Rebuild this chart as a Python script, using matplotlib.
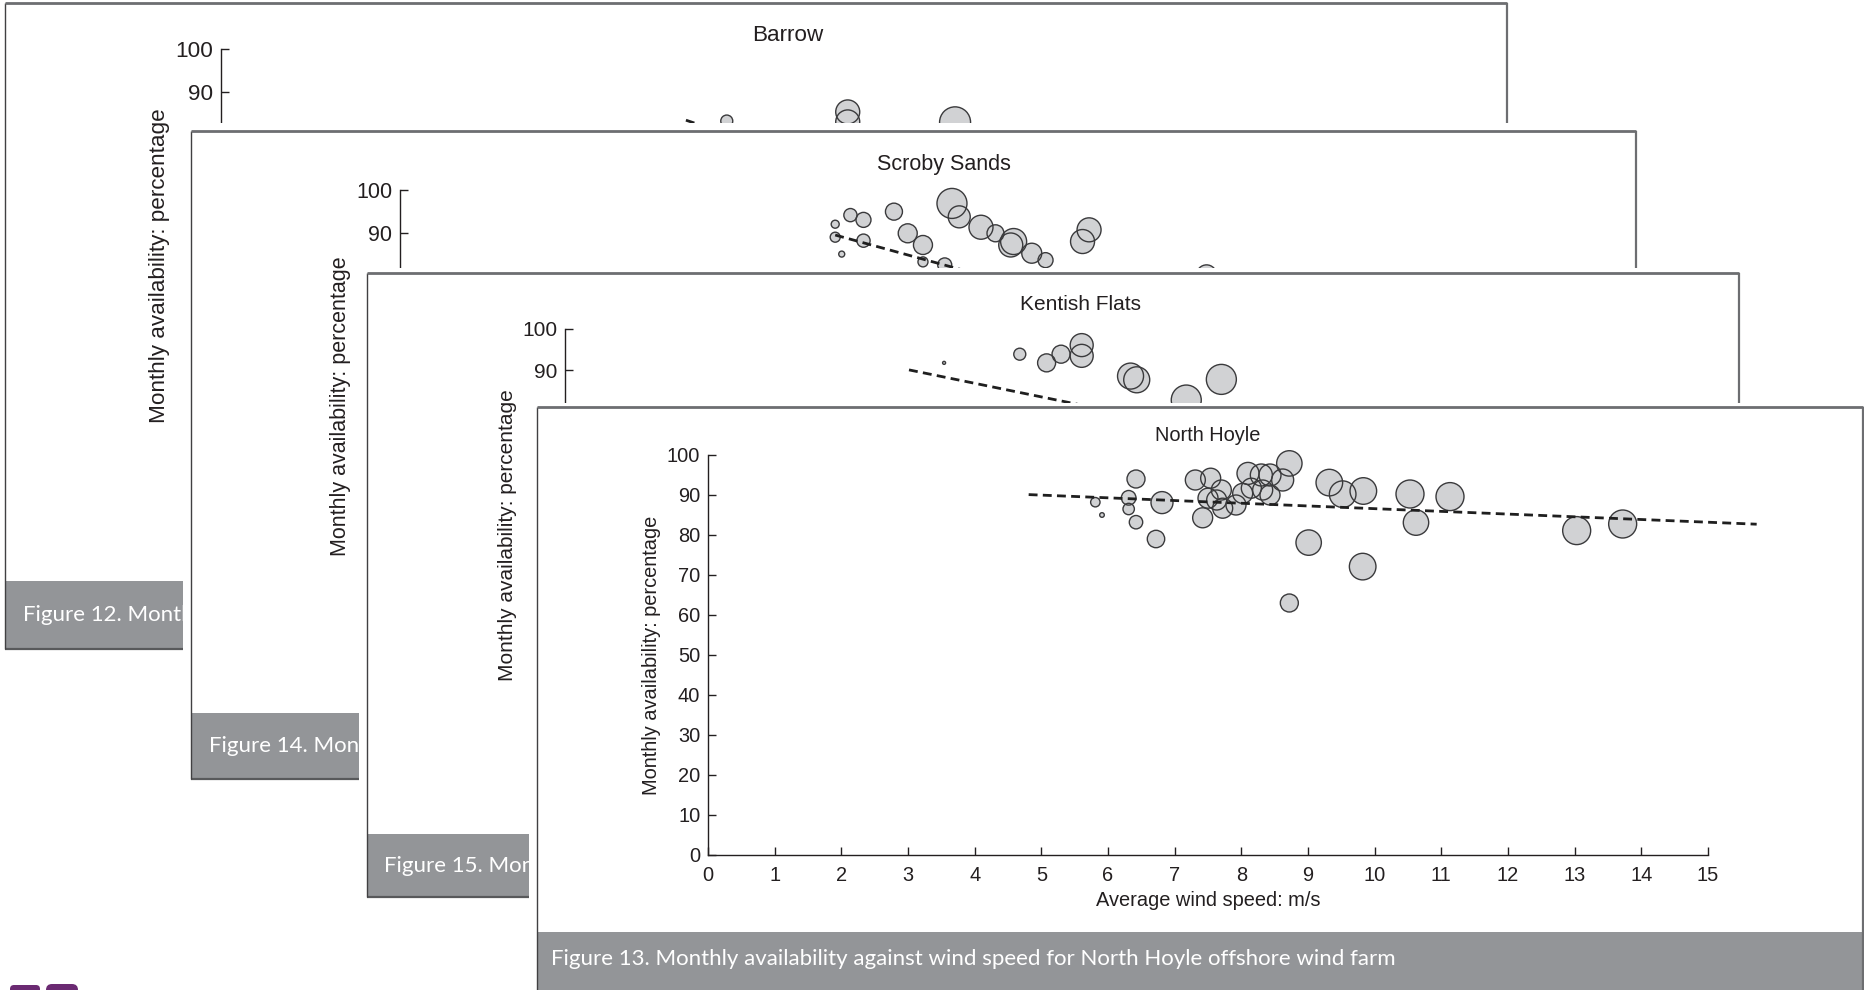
import matplotlib
matplotlib.use("Agg")
import matplotlib.pyplot as plt
from matplotlib.patches import Rectangle, FancyBboxPatch

plt.rcParams['font.family'] = ['Liberation Sans', 'DejaVu Sans']

# ---------------- data ----------------
titles = ["Barrow", "Scroby Sands", "Kentish Flats", "North Hoyle"]
captions = [
    "Figure 12. Monthly availability against wind speed for Barrow offshore wind farm",
    "Figure 14. Monthly availability against wind speed for Scroby Sands offshore wind farm",
    "Figure 15. Monthly availability against wind speed for Kentish Flats offshore wind farm",
    "Figure 13. Monthly availability against wind speed for North Hoyle offshore wind farm",
]
x_ticks = list(range(0, 16))
y_ticks = list(range(0, 101, 10))
x_label = "Average wind speed: m/s"
y_label = "Monthly availability: percentage"

barrow_wind = [6.69, 8.29, 8.29, 9.71]
barrow_avail = [83.4, 85.5, 83.2, 83.1]
barrow_size = [6.0, 12.0, 12.0, 15.5]
barrow_trend_x = [6.15, 12.0]
barrow_trend_y = [83.6, 49.0]

scroby_wind = [7.61, 7.71, 8.01, 8.21, 8.42, 8.46, 8.71, 8.90, 9.41, 9.50, 6.81,
               7.00, 7.21, 6.21, 6.39, 6.00, 6.00, 6.39, 6.09, 7.21, 7.51, 11.12]
scroby_avail = [96.9, 93.8, 91.4, 90.0, 87.3, 88.1, 85.4, 83.8, 88.1, 90.8, 95.0,
                90.0, 87.3, 94.2, 93.1, 92.1, 89.1, 88.3, 85.2, 83.4, 82.7, 80.4]
scroby_size = [15, 11, 12, 8.5, 12, 13, 10, 7.5, 12, 12, 8.5,
               9.5, 9.5, 6.6, 7.5, 4, 5, 6.6, 3, 5, 7, 10]
scroby_trend_x = [6.0, 12.0]
scroby_trend_y = [89.6, 62.0]

kentish_wind = [6.61, 5.51, 7.00, 7.21, 7.51, 7.51, 8.22, 8.31, 9.03, 9.54]
kentish_avail = [93.9, 91.8, 91.8, 93.9, 96.1, 93.5, 88.6, 87.7, 82.8, 87.8]
kentish_size = [6, 1.5, 9, 9, 11.5, 11.5, 13, 13, 15, 15]
kentish_trend_x = [5.0, 12.0]
kentish_trend_y = [90.1, 66.3]

nh_wind = [5.81, 5.91, 6.31, 6.31, 6.42, 6.42, 6.72, 6.81, 7.31, 7.54, 7.42, 7.50,
           7.70, 7.63, 7.72, 7.92, 8.10, 8.02, 8.15, 8.30, 8.32, 8.43, 8.43, 8.62,
           8.72, 8.72, 9.01, 9.32, 9.52, 9.83, 9.82, 10.53, 10.62, 11.13, 13.03, 13.72]
nh_avail = [88.2, 85.0, 89.3, 86.5, 94.0, 83.2, 79.0, 88.1, 93.75, 94.2, 84.3, 89.2,
            91.25, 88.75, 86.7, 87.5, 95.4, 90.4, 91.7, 95.0, 91.25, 95.0, 90.0, 93.75,
            97.9, 63.0, 78.1, 93.1, 90.2, 91.0, 72.1, 90.25, 83.1, 89.6, 81.1, 82.75]
nh_size = [4.7, 2.3, 7.3, 5.7, 9.0, 6.7, 8.7, 11.0, 10, 10, 10, 10,
           10, 10, 10, 10, 11, 10, 10, 11, 10, 11, 10, 11,
           12.7, 9.0, 12.7, 13.3, 13.3, 13.3, 13.3, 14.0, 12.7, 14.0, 14.0, 14.0]
nh_trend_x = [4.81, 15.73]
nh_trend_y = [90.1, 82.7]

series = [
    (barrow_wind, barrow_avail, barrow_size, barrow_trend_x, barrow_trend_y),
    (scroby_wind, scroby_avail, scroby_size, scroby_trend_x, scroby_trend_y),
    (kentish_wind, kentish_avail, kentish_size, kentish_trend_x, kentish_trend_y),
    (nh_wind, nh_avail, nh_size, nh_trend_x, nh_trend_y),
]

# ---------------- layout (pixels) ----------------
W, H, DPI = 1864, 990, 100
# panel: left, top, right, bottom, caption top, top padding
panels = [
    (5, 3, 1507, 649, 581, 3),
    (191, 131, 1636, 779, 713, 8),
    (367, 273, 1739, 897, 834, 5),
    (537, 407, 1863, 1010, 932, 4),
]
# axes: x at 0, x at 15, y at 0, y at 100
axes_px = [
    (221, 1355, 483, 49),
    (400, 1488, 623, 190),
    (565, 1597, 742, 329),
    (708, 1708, 855, 455),
]
title_pads = [6.0, 14.5, 13.6, 9.8]
font_sizes = [16.2, 15.5, 15.0, 14.4]
cap_text_dx = [18, 18, 17, 14]
cap_font = 16

FILL = '#d1d2d4'
EDGE = '#3a3a3c'
INK = '#231f20'
CAP_BG = '#939598'

fig = plt.figure(figsize=(W / DPI, H / DPI), dpi=DPI)
fig.patch.set_facecolor('white')

for k in range(4):
    L, T, R, B, CT, PT = panels[k]
    # ---- panel background / frame / caption ----
    bg = fig.add_axes([0, 0, 1, 1])
    bg.set_zorder(10 * k)
    bg.set_xlim(0, W)
    bg.set_ylim(H, 0)
    bg.axis('off')
    bg.patch.set_visible(False)
    bg.add_patch(Rectangle((L - 8, T - PT), R - L + 12, B - T + PT + 8,
                           facecolor='white', edgecolor='none'))
    bg.add_patch(Rectangle((L, CT), R - L, B - CT, facecolor=CAP_BG, edgecolor='none'))
    bg.plot([L, R], [B, B], color='#58595b', lw=1.6, solid_capstyle='butt')
    bg.plot([L, L], [T, B], color='#414042', lw=1.0, solid_capstyle='butt')
    bg.plot([R, R], [T, B], color='#6d6e71', lw=1.6, solid_capstyle='butt')
    bg.plot([L, R], [T, T], color='#6d6e71', lw=2.0, solid_capstyle='butt')
    bg.text(L + cap_text_dx[k], CT + 27 if k == 3 else (CT + B) / 2, captions[k],
            color='white', fontsize=cap_font, family=['Lato', 'DejaVu Sans'],
            ha='left', va='center')

    # ---- scatter axes ----
    x0, x15, y0, y100 = axes_px[k]
    ax = fig.add_axes([x0 / W, 1 - y0 / H, (x15 - x0) / W, (y0 - y100) / H])
    ax.set_zorder(10 * k + 1)
    ax.patch.set_visible(False)
    ax.set_xlim(0, 15)
    ax.set_ylim(0, 100)
    fs = font_sizes[k]
    for side in ('top', 'right'):
        ax.spines[side].set_visible(False)
    for side in ('left', 'bottom'):
        ax.spines[side].set_color(INK)
        ax.spines[side].set_linewidth(1.0)
    ax.set_xticks(x_ticks)
    ax.set_yticks(y_ticks)
    ax.tick_params(direction='in', length=6, width=1.0, color=INK,
                   labelcolor=INK, labelsize=fs)
    ax.tick_params(axis='y', pad=5.5)
    ax.tick_params(axis='x', pad=8)
    ax.set_ylabel(y_label, fontsize=fs, color=INK, labelpad=4)
    ax.set_title(titles[k], fontsize=fs, color=INK, pad=title_pads[k])
    if k == 3:
        ax.set_xlabel(x_label, fontsize=fs, color=INK, labelpad=4)
    else:
        # back panels: only the top of the y axis peeks out from under the next panel
        ax.tick_params(axis='x', labelbottom=False)
        ax.set_yticklabels([str(v) if v >= 90 else '' for v in y_ticks])

    xs, ys, rs, tx, ty = series[k]
    sizes = [(1.44 * r) ** 2 for r in rs]
    ax.scatter(xs, ys, s=sizes, facecolor=FILL, edgecolor='none', zorder=3, clip_on=False)
    ax.scatter(xs, ys, s=sizes, facecolor='none', edgecolor=EDGE, linewidths=1.0,
               zorder=4, clip_on=False)
    ax.plot(tx, ty, color='#1f1f1f', lw=2.0, ls=(0, (3.2, 1.9)), zorder=5, clip_on=False)

# small logo fragment at the bottom-left corner
top = fig.add_axes([0, 0, 1, 1])
top.set_zorder(100)
top.set_xlim(0, W)
top.set_ylim(H, 0)
top.axis('off')
top.patch.set_visible(False)
top.add_patch(FancyBboxPatch((10, 985), 30, 12, boxstyle='round,pad=0,rounding_size=4',
                             facecolor='#6b2a72', edgecolor='none'))
top.add_patch(FancyBboxPatch((46, 984), 32, 12, boxstyle='round,pad=0,rounding_size=6',
                             facecolor='#6b2a72', edgecolor='none'))

fig.savefig('out.png', dpi=DPI, facecolor='white')
